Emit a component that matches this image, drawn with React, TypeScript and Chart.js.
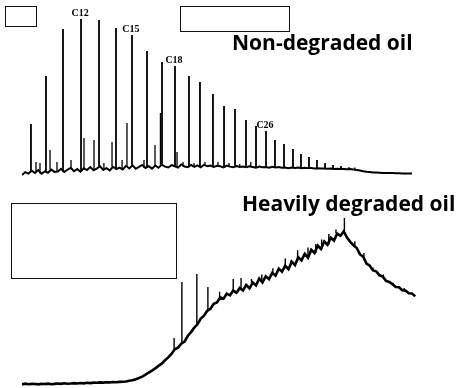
import React, { useEffect, useRef } from "react";
import { Chart, registerables } from "chart.js";

Chart.register(...registerables);

// Retention time between detector samples (minutes)
const RT_STEP = 0.5;

// ---- Non-degraded oil --------------------------------------------------
// Detector baseline, one sample every RT_STEP minutes starting at 0
const freshBaseline = [
  3.0, 4.8, 3.9, 5.6, 4.2, 6.0, 3.8, 5.2, 4.4, 6.3, 4.9,
  5.1, 6.8, 4.9, 6.2, 7.4, 5.3, 6.6, 5.0, 7.1, 6.0,
  7.8, 5.9, 6.9, 8.3, 6.1, 7.2, 5.8, 8.0, 6.6, 7.5,
  6.4, 8.6, 7.0, 8.9, 6.8, 7.9, 9.1, 7.3, 8.4, 6.9,
  8.8, 7.4, 9.3, 8.1, 7.6, 9.0, 8.3, 7.5, 9.4, 8.2,
  7.8, 9.1, 8.0, 8.9, 7.7, 9.2, 8.4, 8.8, 7.9, 8.6,
  8.3, 7.6, 8.7, 8.1, 7.8, 8.5, 7.9, 8.2, 7.7, 8.3,
  7.9, 7.5, 8.1, 7.7, 7.9, 7.4, 8.0, 7.6, 7.8, 7.5,
  7.6, 7.2, 7.5, 7.3, 7.6, 7.1, 7.4, 7.2, 7.3, 7.0,
  7.1, 6.9, 7.0, 6.8, 6.9, 6.7, 6.8, 6.6, 6.7, 6.5,
  6.6, 6.4, 6.1, 5.7, 5.3, 5.0, 4.8, 4.6, 4.5, 4.4,
  4.3, 4.3, 4.2, 4.2, 4.1, 4.1, 4.0, 4.0, 4.0, 3.9,
];

// n-alkane peaks
const alkaneNames = [
  "C9", "C10", "C11", "C12", "C13", "C14", "C15", "C16", "C17", "C18",
  "C19", "C20", "C21", "C22", "C23", "C24", "C25", "C26", "C27", "C28",
  "C29", "C30", "C31", "C32", "C33", "C34", "C35",
];
const alkaneTimes = [
  1.38, 3.69, 6.31, 9.08, 11.85, 14.46, 16.92, 19.23, 21.54, 23.54,
  25.69, 27.38, 29.38, 31.08, 32.77, 34.46, 36.0, 37.54, 38.92, 40.31,
  41.69, 42.92, 44.15, 45.38, 46.62, 47.85, 49.08,
];
const alkaneHeights = [
  33.9, 63.0, 91.5, 97.6, 97.0, 92.1, 87.9, 78.2, 71.5, 69.1,
  63.0, 59.4, 52.1, 44.8, 43.0, 36.4, 32.7, 29.7, 24.2, 21.8,
  18.8, 15.8, 13.9, 12.1, 10.3, 9.1, 8.5,
];
const labelledAlkanes = ["C12", "C15", "C18", "C26"];

// Smaller resolved compounds between the n-alkanes
const freshMinorTimes = [
  2.15, 2.77, 4.31, 5.38, 7.54, 9.54, 11.08, 12.6, 13.85, 15.4, 16.15,
  18.77, 20.46, 21.3, 23.85, 24.77, 26.46, 28.15, 30.15, 31.85, 33.5,
  35.2, 50.3, 51.2,
];
const freshMinorHeights = [
  10.9, 10.3, 18.2, 10.9, 12.1, 25.5, 24.2, 10.3, 23.0, 12.1, 34.5,
  12.1, 21.2, 40.6, 17.0, 10.9, 10.3, 10.9, 10.9, 10.3, 9.7,
  10.9, 7.9, 7.6,
];

// ---- Heavily degraded oil ----------------------------------------------
// Unresolved complex mixture hump, one sample every RT_STEP minutes from 0
const degradedBaseline = [
  2.0, 2.4, 2.1, 2.3, 2.2, 2.0, 2.3, 2.2, 2.4, 2.1,
  2.3, 2.5, 2.3, 2.6, 2.4, 2.5, 2.7, 2.5, 2.8, 2.6,
  2.9, 2.7, 3.0, 2.9, 3.1, 3.0, 3.2, 3.1, 3.3, 3.2,
  3.4, 3.5, 3.6, 4.0, 4.3, 4.9, 5.6, 6.3, 7.4, 8.6,
  9.7, 10.9, 12.3, 13.5, 15.4, 17.0, 18.9, 21.5, 22.4, 24.6,
  25.8, 28.9, 31.0, 33.5, 35.4, 38.6, 40.2, 42.9, 44.0, 46.8,
  47.5, 50.3, 49.6, 52.4, 51.5, 54.1, 52.9, 55.6, 54.2, 57.3,
  55.4, 58.6, 57.0, 60.8, 58.7, 62.1, 60.5, 64.0, 62.4, 66.3,
  64.6, 67.9, 66.0, 70.2, 68.3, 72.6, 70.9, 74.5, 72.4, 76.8,
  75.0, 79.1, 77.2, 81.4, 79.6, 83.5, 81.9, 85.8, 84.6, 87.0,
  83.6, 81.2, 79.3, 77.8, 74.2, 72.9, 69.1, 67.9, 65.3, 64.8,
  62.6, 61.9, 59.5, 58.9, 57.6, 56.1, 56.0, 54.3, 54.1, 52.6,
  52.5, 50.9,
];
// Residual resolved peaks riding on the hump
const degradedSpikeTimes = [
  23.4, 24.6, 26.9, 28.6, 30.4, 32.5, 33.7, 35.3, 36.9, 38.6, 40.5,
  41.4, 42.4, 44.0, 45.2, 46.1, 47.2, 48.3, 49.6, 51.2, 52.6, 54.0,
  55.6, 57.1, 58.8,
];
const degradedSpikeHeights = [
  27.8, 58.9, 63.3, 56.1, 53.5, 60.6, 61.1, 60.5, 63.0, 66.5, 72.0,
  71.0, 76.5, 78.0, 80.0, 82.5, 85.5, 88.0, 94.4, 81.5, 75.0, 67.0,
  63.0, 58.5, 55.5,
];

// ---- helpers -----------------------------------------------------------
type Pt = { x: number; y: number | null };

function tracePoints(values: number[]): Pt[] {
  return values.map((y, i) => ({ x: i * RT_STEP, y }));
}

// Vertical peak strokes rising from the trace sample nearest each peak
function peakStrokes(times: number[], heights: number[], base: number[]): Pt[] {
  const pts: Pt[] = [];
  times.forEach((t, i) => {
    const foot = base[Math.min(base.length - 1, Math.round(t / RT_STEP))];
    pts.push({ x: t, y: foot }, { x: t, y: heights[i] }, { x: t, y: null });
  });
  return pts;
}

const alkaneLabelPlugin = {
  id: "alkaneLabels",
  afterDatasetsDraw(chart: any) {
    const { ctx, scales } = chart;
    ctx.save();
    ctx.font = "bold 10px 'Liberation Serif', serif";
    ctx.fillStyle = "#000";
    ctx.textAlign = "center";
    ctx.textBaseline = "alphabetic";
    labelledAlkanes.forEach((name) => {
      const i = alkaneNames.indexOf(name);
      const px = scales.x.getPixelForValue(alkaneTimes[i]);
      const py = scales.y.getPixelForValue(alkaneHeights[i]);
      ctx.fillText(name, px - 1, py - 3);
    });
    ctx.restore();
  },
};

const WIDTH = 466;
const RT_MAX = 62;

function Trace(props: {
  top: number;
  height: number;
  padTop: number;
  padBottom: number;
  datasets: any[];
  plugins?: any[];
}) {
  const ref = useRef<HTMLCanvasElement | null>(null);
  useEffect(() => {
    if (!ref.current) return;
    const chart = new Chart(ref.current, {
      type: "line",
      data: { datasets: props.datasets },
      options: {
        animation: false,
        responsive: false,
        events: [],
        layout: {
          padding: { left: 22, right: WIDTH - 22 - RT_MAX * 6.5, top: props.padTop, bottom: props.padBottom },
        },
        plugins: { legend: { display: false }, tooltip: { enabled: false } },
        elements: { point: { radius: 0 }, line: { tension: 0 } },
        scales: {
          x: { type: "linear", min: 0, max: RT_MAX, display: false },
          y: { type: "linear", min: 0, max: 100, display: false },
        },
      },
      plugins: props.plugins || [],
    });
    return () => chart.destroy();
  }, []);
  return (
    <canvas
      ref={ref}
      width={WIDTH}
      height={props.height}
      style={{ position: "absolute", left: 0, top: props.top, width: WIDTH, height: props.height }}
    />
  );
}

const boxStyle = (left: number, top: number, w: number, h: number): React.CSSProperties => ({
  position: "absolute",
  left,
  top,
  width: w,
  height: h,
  border: "1px solid #111",
  boxSizing: "border-box",
  background: "transparent",
});

const titleStyle = (left: number, top: number): React.CSSProperties => ({
  position: "absolute",
  left,
  top,
  font: "bold 21px 'Open Sans', 'Noto Sans', sans-serif",
  lineHeight: "21px",
  color: "#000",
  whiteSpace: "nowrap",
});

export default function App() {
  const freshSets = [
    {
      data: tracePoints(freshBaseline),
      borderColor: "#000",
      borderWidth: 2.0,
    },
    {
      data: peakStrokes(alkaneTimes, alkaneHeights, freshBaseline),
      borderColor: "#000",
      borderWidth: 1.8,
    },
    {
      data: peakStrokes(freshMinorTimes, freshMinorHeights, freshBaseline),
      borderColor: "#000",
      borderWidth: 1.3,
    },
  ];
  const degradedSets = [
    {
      data: tracePoints(degradedBaseline),
      borderColor: "#000",
      borderWidth: 2.6,
    },
    {
      data: peakStrokes(degradedSpikeTimes, degradedSpikeHeights, degradedBaseline),
      borderColor: "#000",
      borderWidth: 1.4,
    },
  ];

  return (
    <div style={{ position: "absolute", left: 0, top: 0, width: WIDTH, height: 388, background: "#fff", overflow: "hidden" }}>
      <Trace top={0} height={190} padTop={15} padBottom={10} datasets={freshSets} plugins={[alkaneLabelPlugin]} />
      <Trace top={190} height={198} padTop={18} padBottom={0} datasets={degradedSets} />
      <div style={boxStyle(5, 6, 32, 21)} />
      <div style={boxStyle(180, 6, 110, 26)} />
      <div style={boxStyle(11, 203, 166, 76)} />
      <div style={titleStyle(232, 32)}>Non-degraded oil</div>
      <div style={titleStyle(242, 193)}>Heavily degraded oil</div>
    </div>
  );
}
